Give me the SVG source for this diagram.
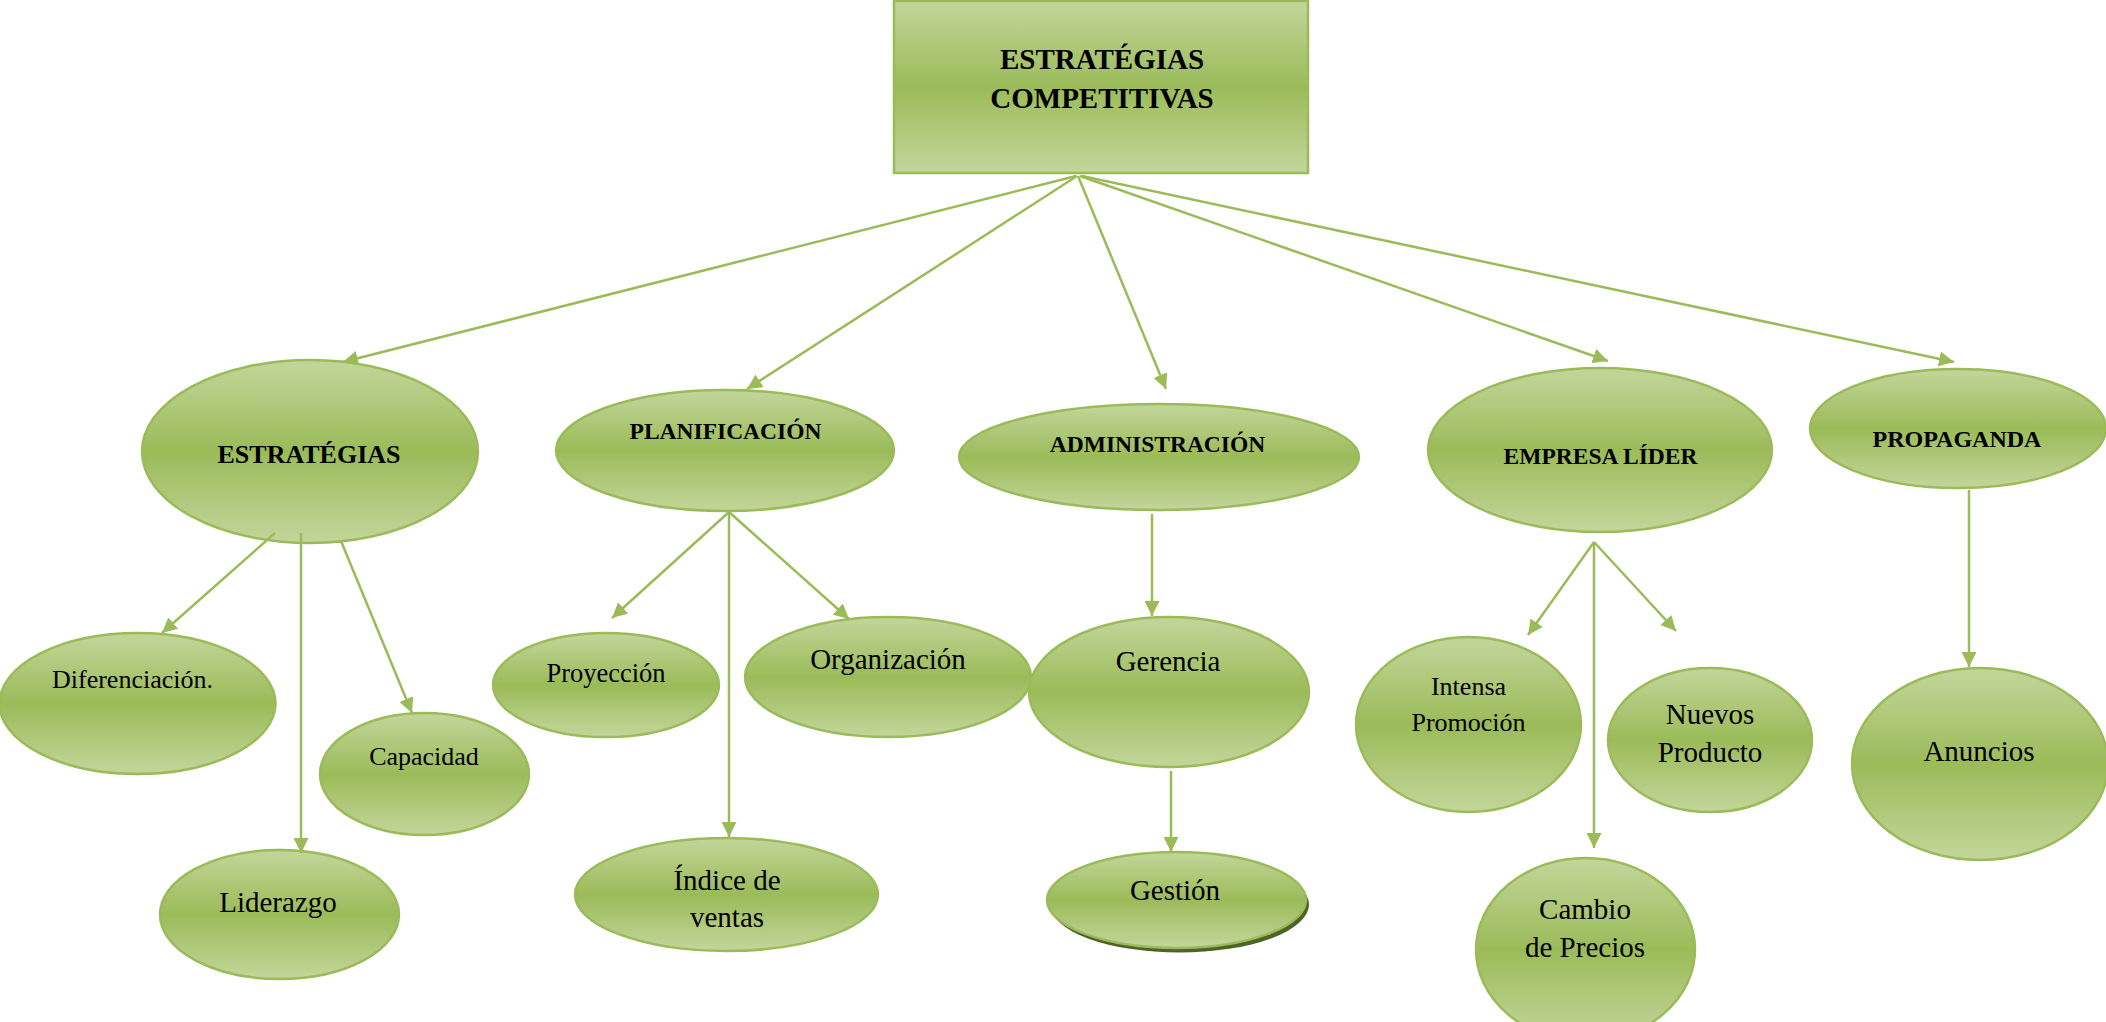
<svg xmlns="http://www.w3.org/2000/svg" width="2106" height="1022" viewBox="0 0 2106 1022">
  <defs>
    <linearGradient id="fillGreen" x1="0" y1="0" x2="0" y2="1">
      <stop offset="0" stop-color="#c3d69b"/>
      <stop offset="0.5" stop-color="#9bbb59"/>
      <stop offset="1" stop-color="#c3d69b"/>
    </linearGradient>
    <marker id="arrow" viewBox="0 0 10 10" refX="10" refY="5" markerWidth="15" markerHeight="15" markerUnits="userSpaceOnUse" orient="auto">
      <path d="M0,0 L10,5 L0,10 z" fill="#9bbb59"/>
    </marker>
  </defs>
  <style>
    .shape { fill: url(#fillGreen); stroke: #9bbb59; stroke-width: 2.5; }
    .shadow { fill: #4f6228; }
    .lbl { font-family: "Liberation Serif", "Times New Roman", serif; fill: #000; text-anchor: middle; }
    .bold { font-weight: bold; }
    .conn line { stroke: #9bbb59; stroke-width: 2.5; marker-end: url(#arrow); }
  </style>
  <rect width="2106" height="1022" fill="#ffffff"/>

  <!-- root -->
  <g id="n-root">
    <rect class="shape" x="894" y="1" width="414" height="172"/>
    <text class="lbl bold" x="1102" y="69" font-size="29">ESTRATÉGIAS</text>
    <text class="lbl bold" x="1102" y="108" font-size="29">COMPETITIVAS</text>
  </g>

  <!-- first level -->
  <g id="n-estrategias">
    <ellipse class="shape" cx="310" cy="451.5" rx="168" ry="91.5"/>
    <text class="lbl bold" x="309" y="463" font-size="26">ESTRATÉGIAS</text>
  </g>
  <g id="n-planificacion">
    <ellipse class="shape" cx="725" cy="450.5" rx="169" ry="60.5"/>
    <text class="lbl bold" x="725.5" y="439" font-size="23.5">PLANIFICACIÓN</text>
  </g>
  <g id="n-administracion">
    <ellipse class="shape" cx="1159" cy="457" rx="200" ry="53"/>
    <text class="lbl bold" x="1157.5" y="452" font-size="23.5">ADMINISTRACIÓN</text>
  </g>
  <g id="n-empresa">
    <ellipse class="shape" cx="1600" cy="450" rx="172" ry="82"/>
    <text class="lbl bold" x="1600.5" y="464" font-size="23.5">EMPRESA LÍDER</text>
  </g>
  <g id="n-propaganda">
    <ellipse class="shape" cx="1958" cy="428.5" rx="148" ry="59.5"/>
    <text class="lbl bold" x="1957" y="447" font-size="24">PROPAGANDA</text>
  </g>

  <!-- second level -->
  <g id="n-diferenciacion">
    <ellipse class="shape" cx="137.5" cy="703.5" rx="138" ry="70.5"/>
    <text class="lbl" x="132.5" y="688" font-size="26">Diferenciación.</text>
  </g>
  <g id="n-liderazgo">
    <ellipse class="shape" cx="279.5" cy="914.5" rx="119.5" ry="64.5"/>
    <text class="lbl" x="278" y="912" font-size="29">Liderazgo</text>
  </g>
  <g id="n-capacidad">
    <ellipse class="shape" cx="424.5" cy="774" rx="104.5" ry="61"/>
    <text class="lbl" x="424" y="765" font-size="26">Capacidad</text>
  </g>
  <g id="n-proyeccion">
    <ellipse class="shape" cx="606" cy="685" rx="113" ry="52"/>
    <text class="lbl" x="606" y="682" font-size="26.5">Proyección</text>
  </g>
  <g id="n-organizacion">
    <ellipse class="shape" cx="888" cy="677" rx="143" ry="60"/>
    <text class="lbl" x="888" y="669" font-size="29">Organización</text>
  </g>
  <g id="n-indice">
    <ellipse class="shape" cx="726.5" cy="894.5" rx="151.5" ry="56.5"/>
    <text class="lbl" x="727" y="890" font-size="29">Índice de</text>
    <text class="lbl" x="727" y="927" font-size="29">ventas</text>
  </g>
  <g id="n-gerencia">
    <ellipse class="shape" cx="1169" cy="692" rx="140" ry="75"/>
    <text class="lbl" x="1168" y="671" font-size="29">Gerencia</text>
  </g>
  <g id="n-gestion">
    <ellipse class="shadow" cx="1179.5" cy="904.5" rx="129.5" ry="48"/>
    <ellipse class="shape" cx="1176.5" cy="900" rx="129.5" ry="48"/>
    <text class="lbl" x="1175" y="900" font-size="29">Gestión</text>
  </g>
  <g id="n-intensa">
    <ellipse class="shape" cx="1468.5" cy="724.5" rx="112.5" ry="87.5"/>
    <text class="lbl" x="1468.5" y="695" font-size="26">Intensa</text>
    <text class="lbl" x="1468.5" y="731" font-size="26">Promoción</text>
  </g>
  <g id="n-nuevos">
    <ellipse class="shape" cx="1710" cy="740" rx="102" ry="72"/>
    <text class="lbl" x="1710" y="724" font-size="29">Nuevos</text>
    <text class="lbl" x="1710" y="762" font-size="29">Producto</text>
  </g>
  <g id="n-cambio">
    <ellipse class="shape" cx="1585.5" cy="949.6" rx="109.5" ry="91.6"/>
    <text class="lbl" x="1585" y="919" font-size="29">Cambio</text>
    <text class="lbl" x="1585" y="957" font-size="29">de Precios</text>
  </g>
  <g id="n-anuncios">
    <ellipse class="shape" cx="1980" cy="764" rx="128" ry="96"/>
    <text class="lbl" x="1979" y="761" font-size="29">Anuncios</text>
  </g>

  <!-- connectors -->
  <g id="connectors" class="conn">
    <line x1="1076" y1="176" x2="343" y2="362"/>
    <line x1="1077" y1="176" x2="747" y2="389"/>
    <line x1="1078" y1="176" x2="1166" y2="389"/>
    <line x1="1080" y1="176" x2="1608" y2="361"/>
    <line x1="1082" y1="176" x2="1954" y2="362"/>

    <line x1="275" y1="533" x2="162" y2="633"/>
    <line x1="301" y1="533" x2="301" y2="853"/>
    <line x1="341" y1="541" x2="412" y2="713"/>

    <line x1="729" y1="512" x2="612" y2="618"/>
    <line x1="729" y1="512" x2="849" y2="619"/>
    <line x1="729" y1="512" x2="729" y2="837"/>

    <line x1="1152" y1="514" x2="1152" y2="616"/>
    <line x1="1171" y1="771" x2="1171" y2="852"/>

    <line x1="1594" y1="542" x2="1528" y2="635"/>
    <line x1="1594" y1="542" x2="1676" y2="631"/>
    <line x1="1594" y1="542" x2="1594" y2="848"/>

    <line x1="1969" y1="490" x2="1969" y2="667"/>
  </g>
</svg>
